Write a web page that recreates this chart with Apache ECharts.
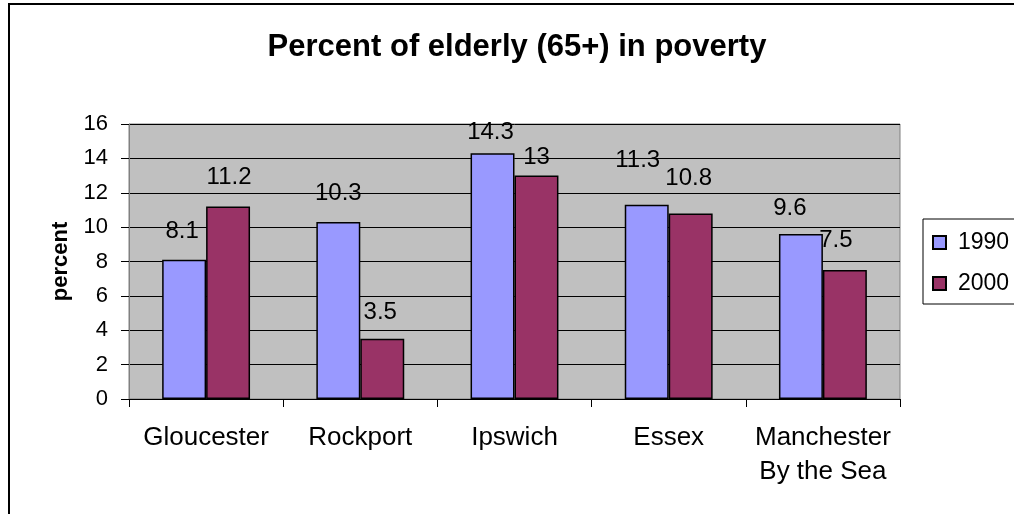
<!DOCTYPE html>
<html>
<head>
<meta charset="utf-8">
<script src="https://cdn.jsdelivr.net/npm/echarts@6/dist/echarts.min.js"></script>
<style>
html,body{margin:0;padding:0;background:#fff;}
#c{width:1014px;height:514px;}
</style>
</head>
<body>
<div id="c"></div>
<script>
var categories = ['Gloucester', 'Rockport', 'Ipswich', 'Essex', 'Manchester\nBy the Sea'];
var values1990 = [8.1, 10.3, 14.3, 11.3, 9.6];
var values2000 = [11.2, 3.5, 13, 10.8, 7.5];
var seriesNames = ['1990', '2000'];
var yTicks = {min: 0, max: 16, interval: 2};
// manual label nudges (px) as placed in the original chart
var labelShift1990 = [[-2, 0], [0, -1], [-2, 7], [-9, -16], [-11, 2]];
var labelShift2000 = [[1, -1], [-2, 2], [0, 10], [-2, -7], [-9, -2]];

var font = 'Liberation Sans, Arial, sans-serif';
function build(vals, shifts) {
  return vals.map(function (v, i) {
    return {value: v, label: {offset: shifts[i]}};
  });
}
var chart = echarts.init(document.getElementById('c'), null, {renderer: 'canvas'});
var labelCfg = {show: true, position: 'top', distance: 16, fontSize: 24, color: '#000', fontFamily: font};
chart.setOption({
  animation: false,
  backgroundColor: '#fff',
  title: {
    text: 'Percent of elderly (65+) in poverty',
    left: 512, textAlign: 'center', top: 27,
    textStyle: {fontSize: 31, fontWeight: 'bold', color: '#000', fontFamily: font}
  },
  graphic: [{
    type: 'rect', silent: true, z: 100,
    shape: {x: 9, y: 4, width: 1100, height: 600},
    style: {fill: 'none', stroke: '#000', lineWidth: 2}
  }],
  legend: {
    orient: 'vertical', left: 923, top: 219,
    itemWidth: 13, itemHeight: 13, itemGap: 18,
    padding: [12, 40, 9, 9],
    borderColor: '#000', borderWidth: 1,
    textStyle: {fontSize: 23, color: '#000', fontFamily: font, padding: [0, 0, 0, 7]},
    icon: 'rect',
    data: seriesNames
  },
  grid: {
    left: 129, right: 114, top: 124, bottom: 115,
    show: true, backgroundColor: '#C0C0C0', borderColor: '#808080', borderWidth: 1
  },
  xAxis: {
    type: 'category', data: categories,
    axisLine: {show: true, lineStyle: {color: '#000', width: 1}},
    axisTick: {show: true, length: 8, lineStyle: {color: '#000'}},
    axisLabel: {fontSize: 26, color: '#000', fontFamily: font, margin: 22, lineHeight: 34, interval: 0}
  },
  yAxis: {
    type: 'value', min: yTicks.min, max: yTicks.max, interval: yTicks.interval,
    name: 'percent', nameLocation: 'middle', nameGap: 57, nameMoveOverlap: false,
    nameTextStyle: {fontSize: 22, fontWeight: 'bold', color: '#000', fontFamily: font},
    axisLine: {show: true, lineStyle: {color: '#808080'}},
    axisTick: {show: true, length: 8, lineStyle: {color: '#000'}},
    axisLabel: {fontSize: 22, color: '#000', fontFamily: font, margin: 21},
    splitLine: {show: true, lineStyle: {color: '#000', width: 1}}
  },
  series: [{
    name: seriesNames[0], type: 'bar', data: build(values1990, labelShift1990),
    barGap: '0%', barCategoryGap: '43%',
    itemStyle: {color: '#9999FF', borderColor: '#000', borderWidth: 1.5},
    label: labelCfg
  }, {
    name: seriesNames[1], type: 'bar', data: build(values2000, labelShift2000),
    barGap: '0%', barCategoryGap: '43%',
    itemStyle: {color: '#993366', borderColor: '#000', borderWidth: 1.5},
    label: labelCfg
  }]
});
</script>
</body>
</html>
